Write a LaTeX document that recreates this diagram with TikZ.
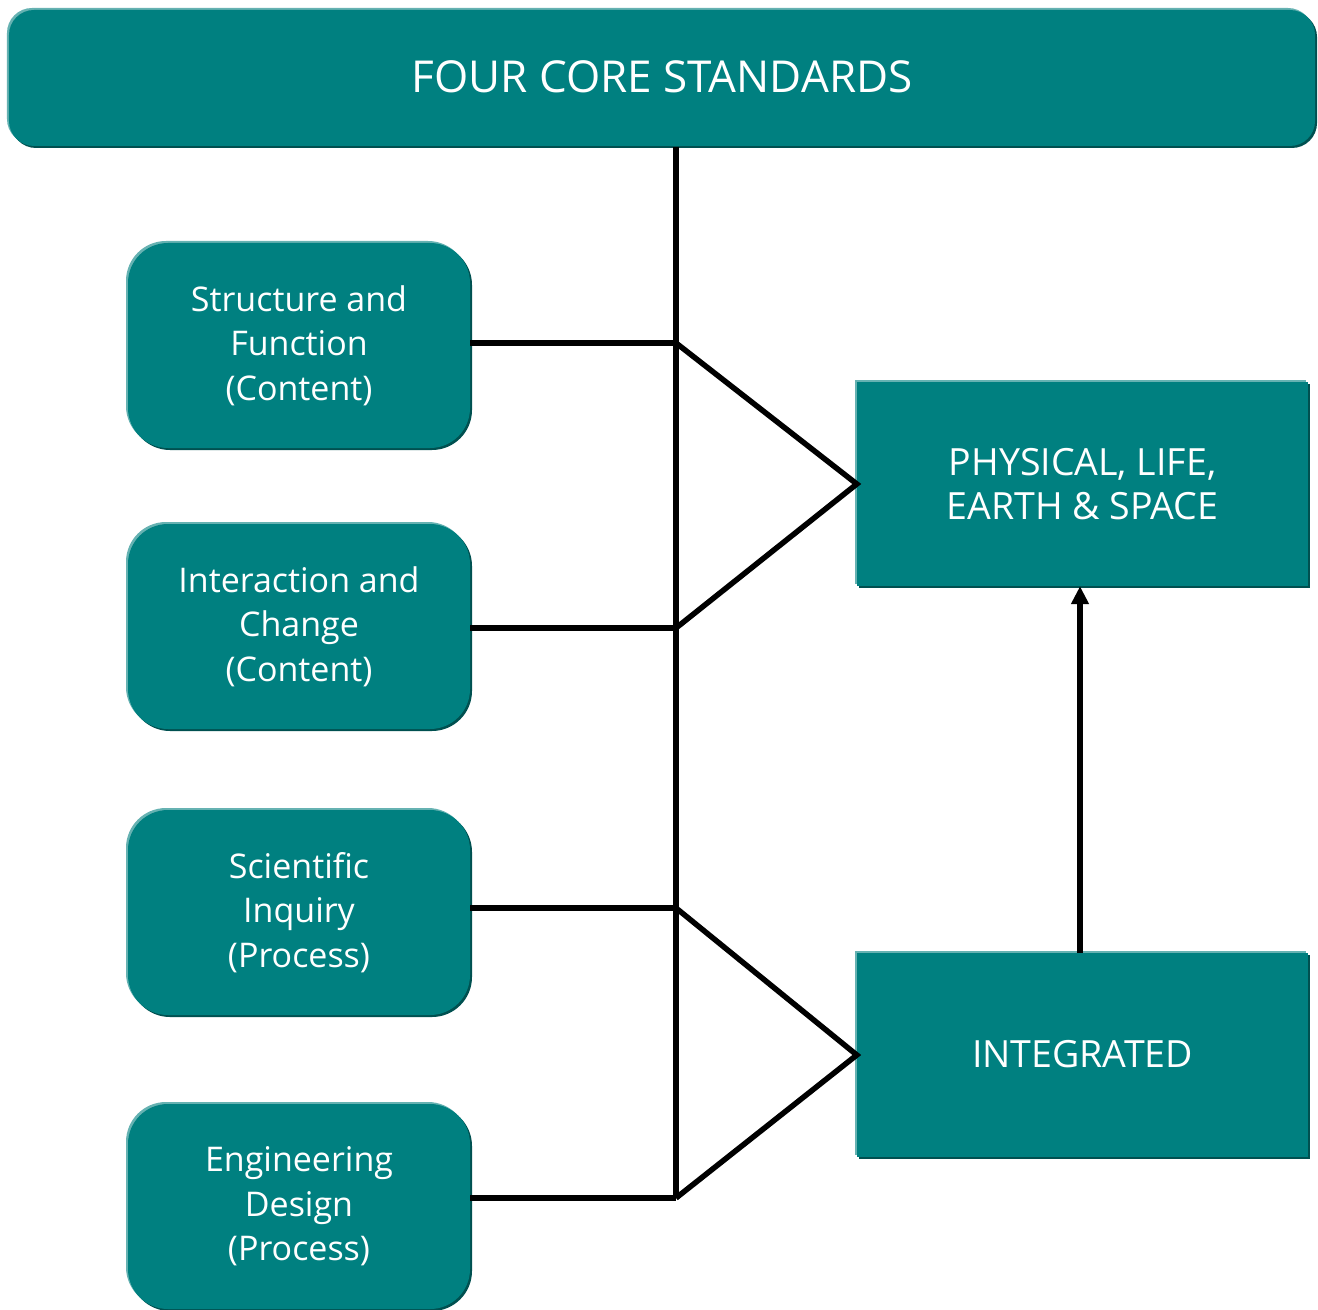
\documentclass[tikz,border=0pt]{standalone}
\usepackage{fontspec}
\setmainfont{Open Sans}
\usetikzlibrary{shadows,arrows.meta}
\definecolor{tealmain}{RGB}{0,128,128}
\definecolor{teallight}{RGB}{102,178,178}
\definecolor{tealdark}{RGB}{0,80,80}
\tikzset{
  bevel/.style={fill=tealmain, draw=none, inner sep=0pt, text=white, align=center,
    general shadow={shadow xshift=-2bp, shadow yshift=2bp, fill=teallight},
    general shadow={shadow xshift=2bp, shadow yshift=-2bp, fill=tealdark}},
  topbox/.style={bevel, rounded corners=25bp, minimum width=1306bp, minimum height=136bp,
    font=\fontsize{44bp}{50bp}\selectfont},
  leftbox/.style={bevel, rounded corners=40bp, minimum width=342bp, minimum height=205bp,
    font=\fontsize{34bp}{44.5bp}\selectfont},
  rightbox/.style={bevel, minimum width=451bp, minimum height=204bp,
    font=\fontsize{37.5bp}{44bp}\selectfont},
  conn/.style={line width=5.5bp, black},
}
\begin{document}
\begin{tikzpicture}[x=1bp,y=-1bp]
\useasboundingbox (0,0) rectangle (1318,1310);
\node[topbox] (top) at (662,78) {\raisebox{3bp}{FOUR CORE STANDARDS}};
\node[leftbox] (b1) at (299,345.5) {Structure and\\Function\\(Content)};
\node[leftbox] (b2) at (299,626.5) {Interaction and\\Change\\(Content)};
\node[leftbox] (b3) at (299,912.5) {Scientific\\Inquiry\\(Process)};
\node[leftbox] (b4) at (299,1206.5) {Engineering\\Design\\(Process)};
\node[rightbox] (pl) at (1082.5,484) {PHYSICAL, LIFE,\\EARTH \& SPACE};
\node[rightbox] (in) at (1082.5,1055) {\raisebox{3bp}{INTEGRATED}};
\coordinate (t0) at (676,147);
\coordinate (j1) at (676,343);
\coordinate (j2) at (676,628);
\coordinate (j3) at (676,908);
\coordinate (j4) at (676,1198);
\draw[conn] (t0) -- (j4);
\draw[conn] (b1.east |- j1) -- (j1);
\draw[conn] (b2.east |- j2) -- (j2);
\draw[conn] (b3.east |- j3) -- (j3);
\draw[conn] (b4.east |- j4) -- (j4);
\draw[conn, line join=miter] (j1) -- (pl.west) -- (j2);
\draw[conn, line join=miter] (j3) -- (in.west) -- (j4);
\draw[conn, -{Triangle[length=18bp,width=17bp]}] (in.north -| 1080,0) -- (pl.south -| 1080,0);
\end{tikzpicture}
\end{document}
